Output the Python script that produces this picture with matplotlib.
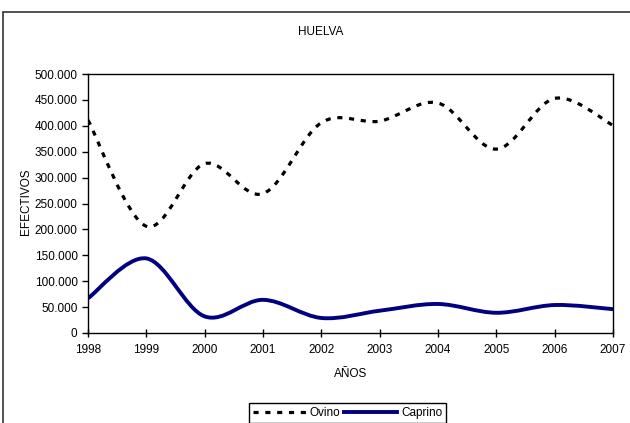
import matplotlib
matplotlib.use("Agg")
import matplotlib.pyplot as plt
from matplotlib.path import Path
from matplotlib.patches import PathPatch, Rectangle
from matplotlib.lines import Line2D
from matplotlib.ticker import FuncFormatter
import numpy as np

plt.rcParams['font.family'] = ['Liberation Sans Narrow', 'Liberation Sans', 'DejaVu Sans']

# datos
years = [1998, 1999, 2000, 2001, 2002, 2003, 2004, 2005, 2006, 2007]
ovino = [411000, 206000, 327000, 269000, 406000, 409000, 444000, 355000, 453000, 401000]
caprino = [67000, 144000, 32000, 64000, 29000, 43000, 56000, 39000, 54000, 46000]


# curva suavizada tipo Excel (Bezier con tangentes Catmull-Rom)
def smooth_path(x, y):
    x = np.asarray(x, float)
    y = np.asarray(y, float)
    n = len(x)
    verts = [(x[0], y[0])]
    codes = [Path.MOVETO]
    for i in range(n - 1):
        i0 = max(i - 1, 0)
        i3 = min(i + 2, n - 1)
        c1 = (x[i] + (x[i + 1] - x[i0]) / 6, y[i] + (y[i + 1] - y[i0]) / 6)
        c2 = (x[i + 1] - (x[i3] - x[i]) / 6, y[i + 1] - (y[i3] - y[i]) / 6)
        verts += [c1, c2, (x[i + 1], y[i + 1])]
        codes += [Path.CURVE4] * 3
    return Path(verts, codes)


fig = plt.figure(figsize=(6.3, 4.23), dpi=100)
ax = fig.add_axes([0.1397, 0.2128, 0.8333, 0.6122])

navy = '#000080'
dash = (0, (1.6, 2.1))
ax.add_patch(PathPatch(smooth_path(years, ovino), fill=False, edgecolor='black',
                       lw=2.3, linestyle=dash, capstyle='butt'))
ax.add_patch(PathPatch(smooth_path(years, caprino), fill=False, edgecolor=navy,
                       lw=2.8, capstyle='round'))

ax.set_xlim(1998, 2007)
ax.set_ylim(0, 500000)
ax.set_xticks(years)
ax.set_yticks(range(0, 500001, 50000))
ax.yaxis.set_major_formatter(FuncFormatter(lambda v, p: f"{int(v):,}".replace(',', '.')))
ax.tick_params(direction='out', length=4, width=1, labelsize=8.5, color='black')
ax.tick_params(axis='x', direction='inout', length=6, pad=5)
for s in ax.spines.values():
    s.set_linewidth(1)
    s.set_color('black')

fig.text(0.509, 0.924, 'HUELVA', ha='center', va='center', fontsize=8.5)
fig.text(0.556, 0.116, 'AÑOS', ha='center', va='center', fontsize=8.5)
fig.text(0.041, 0.522, 'EFECTIVOS', ha='center', va='center', rotation=90, fontsize=8.5)

handles = [Line2D([], [], color='black', lw=2.3, linestyle=dash),
           Line2D([], [], color=navy, lw=2.8)]
fig.legend(handles, ['Ovino', 'Caprino'], loc='center', bbox_to_anchor=(0.552, 0.024),
           ncol=2, frameon=True, fancybox=False, edgecolor='black', fontsize=8.5,
           handlelength=4.5, columnspacing=0.3, handletextpad=0.3, borderpad=0.35,
           framealpha=1).get_frame().set_linewidth(1)

fig.add_artist(Rectangle((3 / 630, -0.1), 1.1, (423 - 12) / 423 + 0.1,
                         transform=fig.transFigure, fill=False, edgecolor='#333333', lw=1.2))

fig.savefig('out.png', dpi=100)
